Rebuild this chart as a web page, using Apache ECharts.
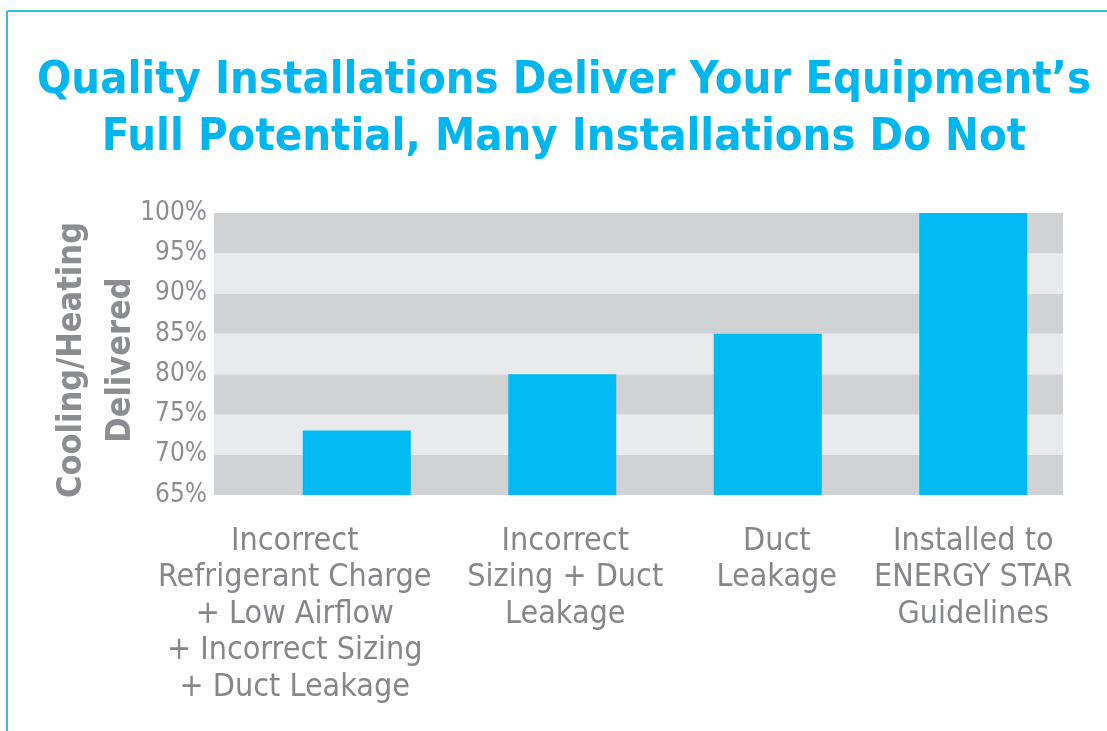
<!DOCTYPE html>
<html>
<head>
<meta charset="utf-8">
<script src="https://cdn.jsdelivr.net/npm/echarts@6/dist/echarts.min.js"></script>
<style>
  html, body { margin: 0; padding: 0; background: #fff; }
  #chart { width: 1107px; height: 731px; }
</style>
</head>
<body>
<div id="chart"></div>
<script>
var FONT = "'DejaVu Sans Condensed', 'Liberation Sans Narrow', sans-serif";

var categories = [
  'Incorrect\nRefrigerant Charge\n+ Low Airflow\n+ Incorrect Sizing\n+ Duct Leakage',
  'Incorrect\nSizing + Duct\nLeakage',
  'Duct\nLeakage',
  'Installed to\nENERGY STAR\nGuidelines'
];
var delivered = [73, 80, 85, 100];
var yMin = 65, yMax = 100, yStep = 5;
// small nudges so each label sits where it does in the print
var labelShift = [-62, 3, 9, 0];

var chart = echarts.init(document.getElementById('chart'));

var rich = {};
labelShift.forEach(function(s, i) {
  rich['c' + i] = {
    fontFamily: FONT, fontSize: 32, lineHeight: 36.5, color: '#86878a',
    padding: s < 0 ? [0, -2 * s, 0, 0] : [0, 0, 0, 2 * s]
  };
});

chart.setOption({
  backgroundColor: '#fff',
  title: {
    text: "Quality Installations Deliver Your Equipment\u2019s\nFull Potential, Many Installations Do Not",
    left: 564,
    top: 53,
    padding: 0,
    textAlign: 'center',
    textStyle: {
      fontFamily: FONT, fontWeight: 'bold', fontSize: 45, lineHeight: 57,
      color: '#00b6ef'
    }
  },
  graphic: [
    { type: 'line', shape: { x1: 7, y1: 11, x2: 1107, y2: 11 }, style: { stroke: '#2bbfee', lineWidth: 2 } },
    { type: 'line', shape: { x1: 7, y1: 11, x2: 7, y2: 731 }, style: { stroke: '#2bbfee', lineWidth: 2 } }
  ],
  grid: [
    { left: 214, right: 44, top: 213, bottom: 236 },
    { left: 254, right: 31, top: 213, bottom: 236 }
  ],
  xAxis: [
    { gridIndex: 0, type: 'category', data: categories, show: false },
    {
      gridIndex: 1, type: 'category', data: categories,
      axisLine: { show: false }, axisTick: { show: false },
      axisLabel: {
        margin: 28, interval: 0,
        formatter: function(v) {
          var i = categories.indexOf(v);
          return v.split('\n').map(function(l) { return '{c' + i + '|' + l + '}'; }).join('\n');
        },
        rich: rich
      }
    }
  ],
  yAxis: [
    {
      gridIndex: 0, type: 'value', min: yMin, max: yMax, interval: yStep,
      name: 'Cooling/Heating\nDelivered',
      nameLocation: 'middle', nameRotate: 90, nameGap: 68,
      nameMoveOverlap: false,
      nameTextStyle: {
        fontFamily: FONT, fontWeight: 'bold', fontSize: 34, lineHeight: 49,
        color: '#8c8d90', align: 'center', padding: [0, 12, 0, 0]
      },
      axisLine: { show: false }, axisTick: { show: false },
      splitLine: { show: false },
      splitArea: { show: true, areaStyle: { color: ['#d1d2d4', '#e9eaec'] } },
      axisLabel: {
        margin: 7, fontFamily: FONT, fontSize: 26, color: '#8c8e91',
        formatter: '{value}%'
      }
    },
    { gridIndex: 1, type: 'value', min: yMin, max: yMax, interval: yStep, show: false }
  ],
  series: [{
    type: 'bar',
    xAxisIndex: 1, yAxisIndex: 1,
    data: delivered,
    barWidth: 108,
    itemStyle: { color: '#00bbf1' }
  }]
});
</script>
</body>
</html>
